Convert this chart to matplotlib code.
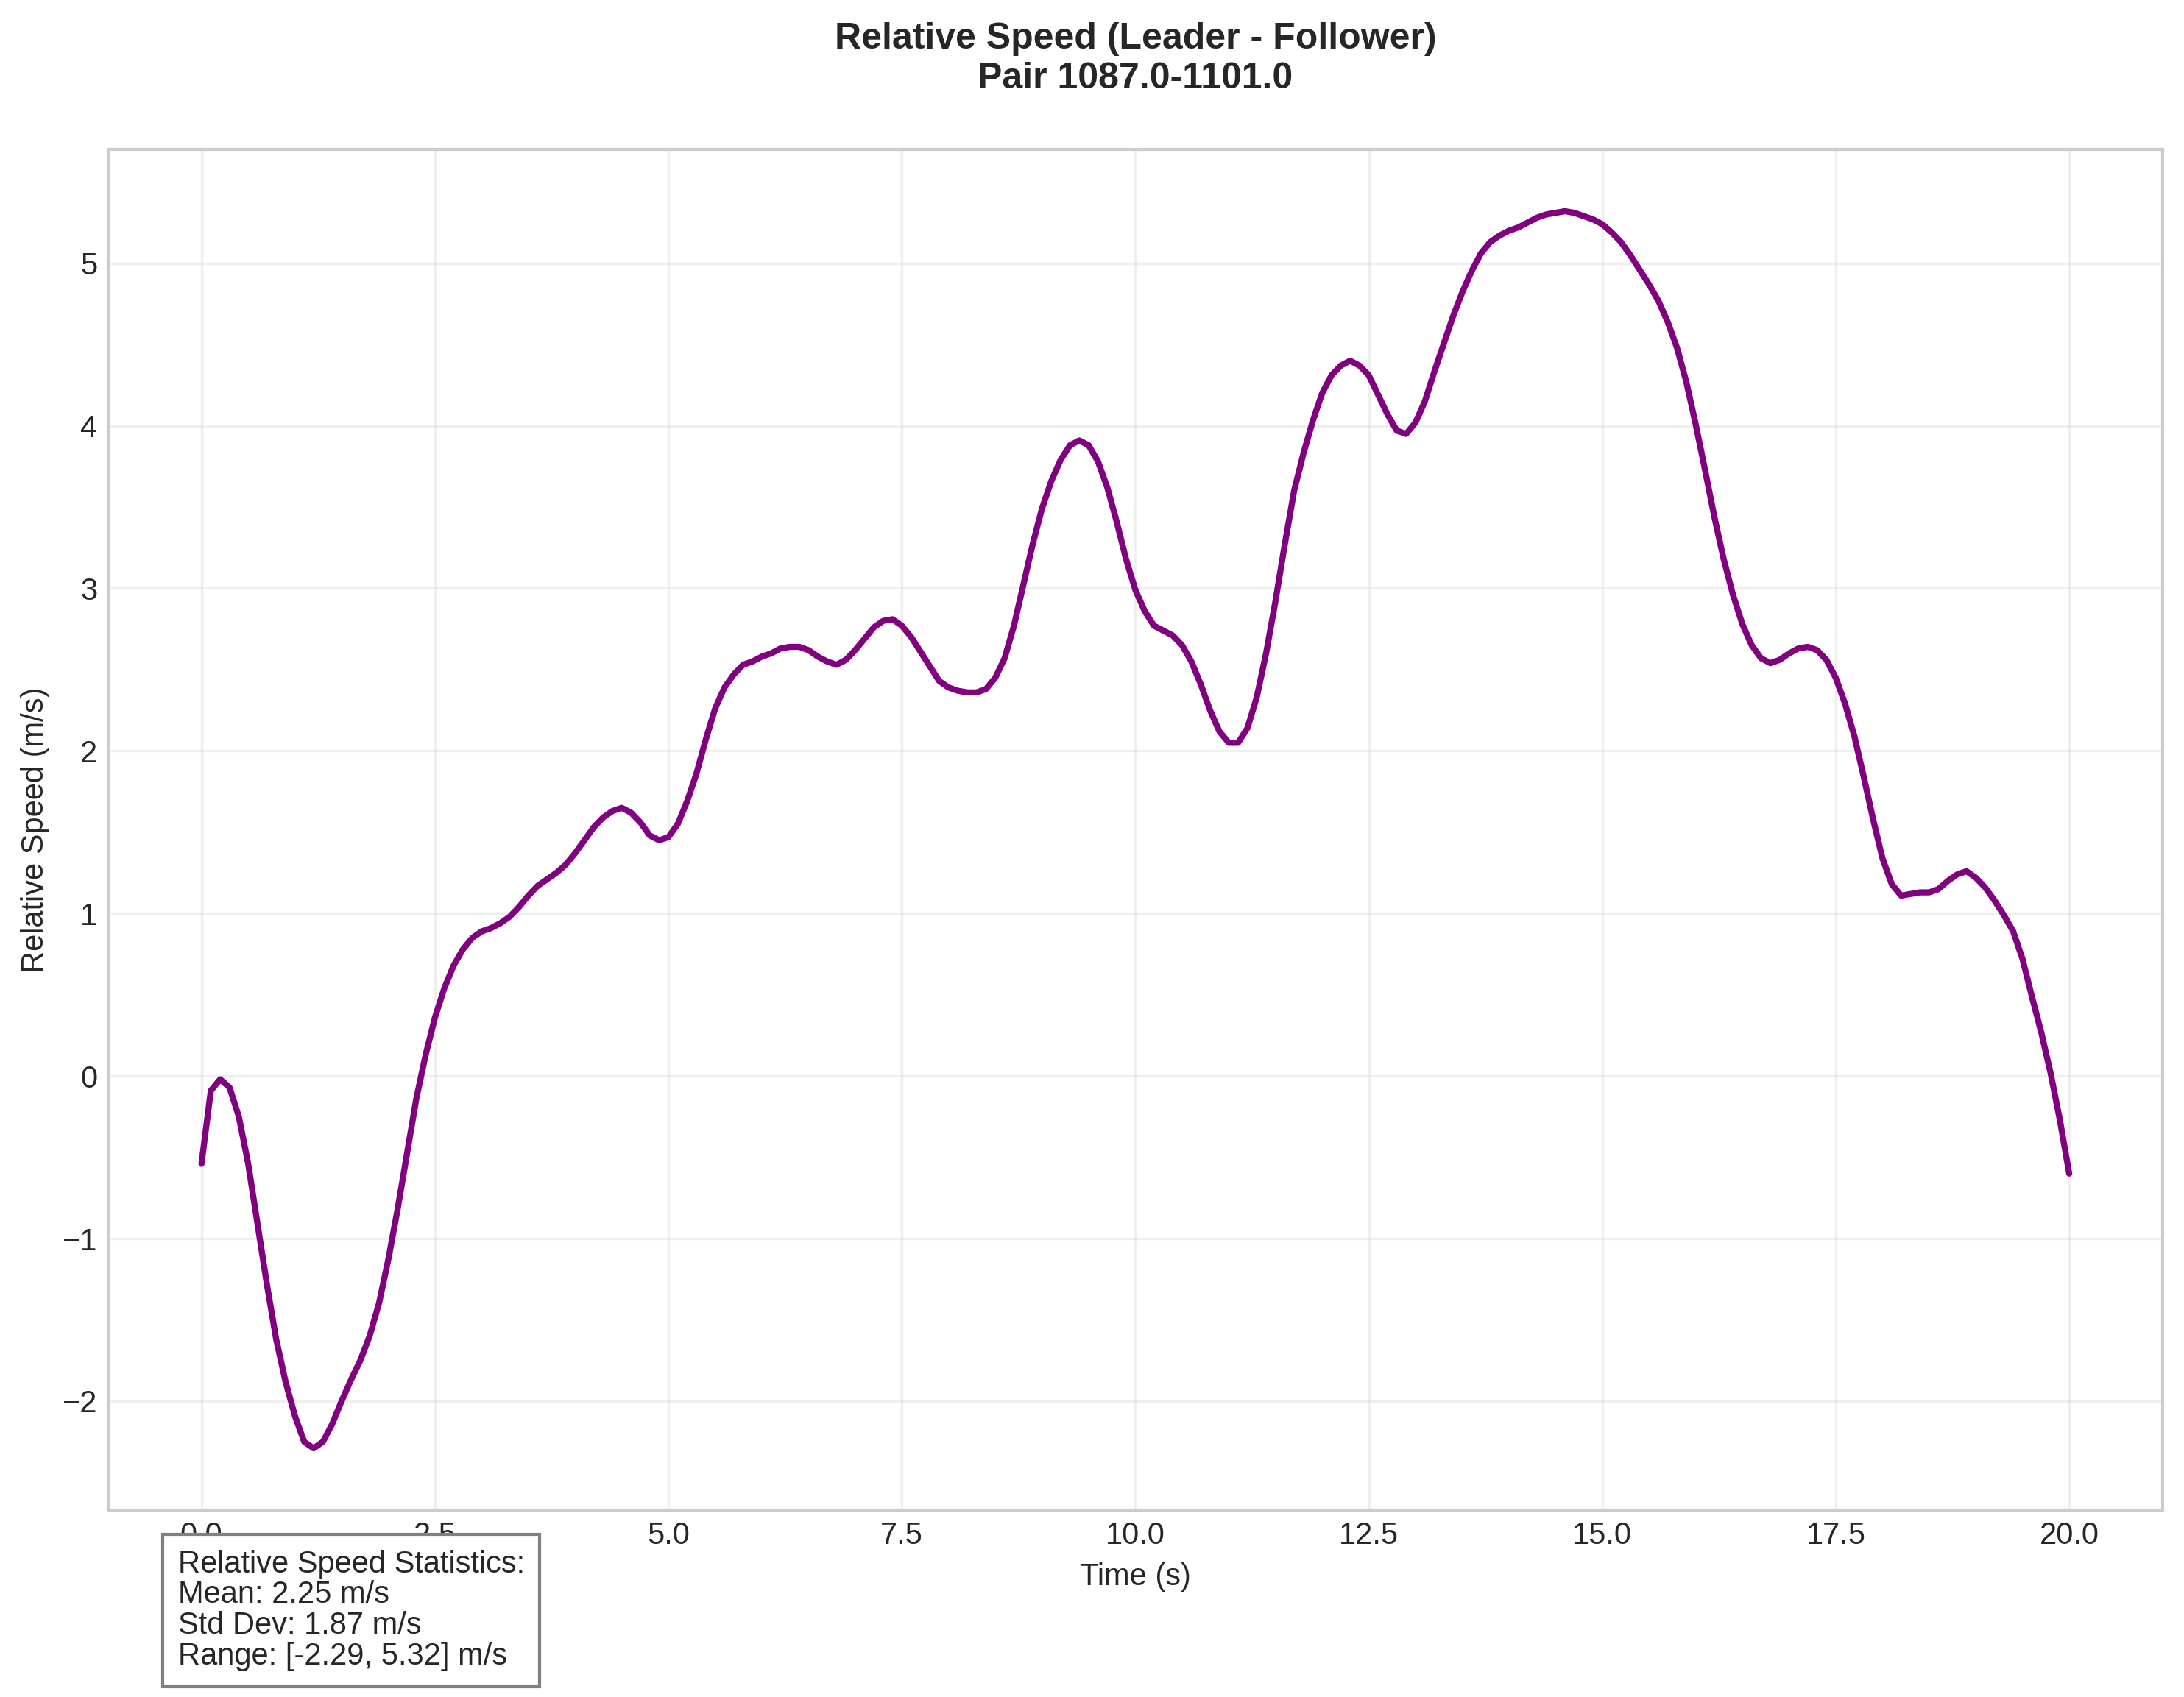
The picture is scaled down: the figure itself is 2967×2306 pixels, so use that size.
import matplotlib
matplotlib.use("Agg")
import matplotlib.pyplot as plt
import seaborn as sns

# relative speed (leader - follower), sampled every 0.1 s from 0 to 20 s
TIME_S = [i / 10 for i in range(201)]
REL_SPEED = [
    -0.54, -0.09, -0.02, -0.07, -0.25, -0.54, -0.91, -1.28, -1.62, -1.88,
    -2.09, -2.25, -2.29, -2.25, -2.14, -2.00, -1.87, -1.75, -1.60, -1.40,
    -1.13, -0.82, -0.48, -0.14, 0.13, 0.36, 0.54, 0.68, 0.78, 0.85,
    0.89, 0.91, 0.94, 0.98, 1.04, 1.11, 1.17, 1.21, 1.25, 1.30,
    1.37, 1.45, 1.53, 1.59, 1.63, 1.65, 1.62, 1.56, 1.48, 1.45,
    1.47, 1.55, 1.69, 1.86, 2.07, 2.26, 2.39, 2.47, 2.53, 2.55,
    2.58, 2.60, 2.63, 2.64, 2.64, 2.62, 2.58, 2.55, 2.53, 2.56,
    2.62, 2.69, 2.76, 2.80, 2.81, 2.77, 2.70, 2.61, 2.52, 2.43,
    2.39, 2.37, 2.36, 2.36, 2.38, 2.45, 2.57, 2.77, 3.02, 3.27,
    3.49, 3.66, 3.79, 3.88, 3.91, 3.88, 3.78, 3.62, 3.41, 3.18,
    2.99, 2.86, 2.77, 2.74, 2.71, 2.65, 2.55, 2.41, 2.25, 2.12,
    2.05, 2.05, 2.14, 2.33, 2.60, 2.92, 3.27, 3.60, 3.83, 4.03,
    4.20, 4.31, 4.37, 4.40, 4.37, 4.31, 4.19, 4.07, 3.97, 3.95,
    4.02, 4.15, 4.33, 4.50, 4.67, 4.82, 4.95, 5.06, 5.13, 5.17,
    5.20, 5.22, 5.25, 5.28, 5.30, 5.31, 5.32, 5.31, 5.29, 5.27,
    5.24, 5.19, 5.13, 5.05, 4.96, 4.87, 4.77, 4.64, 4.48, 4.27,
    4.01, 3.73, 3.44, 3.18, 2.96, 2.78, 2.65, 2.57, 2.54, 2.56,
    2.60, 2.63, 2.64, 2.62, 2.56, 2.45, 2.29, 2.09, 1.84, 1.58,
    1.34, 1.18, 1.11, 1.12, 1.13, 1.13, 1.15, 1.20, 1.24, 1.26,
    1.22, 1.16, 1.08, 0.99, 0.89, 0.72, 0.49, 0.27, 0.02, -0.27,
    -0.60,
]

TITLE = "Relative Speed (Leader - Follower)\nPair 1087.0-1101.0"
STATS_LINES = [
    "Relative Speed Statistics:",
    "Mean: 2.25 m/s",
    "Std Dev: 1.87 m/s",
    "Range: [-2.29, 5.32] m/s",
]

sns.set_style("whitegrid")
plt.rcParams["font.family"] = ["Liberation Sans", "DejaVu Sans"]

fig = plt.figure(figsize=(2967 / 300, 2306 / 300), dpi=300)
ax = fig.add_axes([0.0495, 0.1101, 0.9407, 0.8019])

ax.plot(TIME_S, REL_SPEED, color="purple", linewidth=2)

ax.set_title(TITLE, fontsize=12, fontweight="bold", pad=20, color="#262626")
ax.set_xlabel("Time (s)", fontsize=10, color="#262626")
ax.set_ylabel("Relative Speed (m/s)", fontsize=10, color="#262626")
ax.tick_params(labelsize=10, labelcolor="#262626", length=0)
ax.grid(True, alpha=0.3, color="#cccccc", linewidth=0.8)
for sp in ax.spines.values():
    sp.set_color("#cccccc")
    sp.set_linewidth(1.0)

# stats box sits below the axes, partly over the first tick labels (as in the source)
fig.text(0.0814, 0.0151, "\n".join(STATS_LINES), fontsize=10, color="#262626",
         ha="left", va="bottom", linespacing=1.06,
         bbox=dict(boxstyle="square,pad=0.5", facecolor="white", edgecolor="gray"))

fig.savefig("out.png", dpi=300)
plt.close(fig)
